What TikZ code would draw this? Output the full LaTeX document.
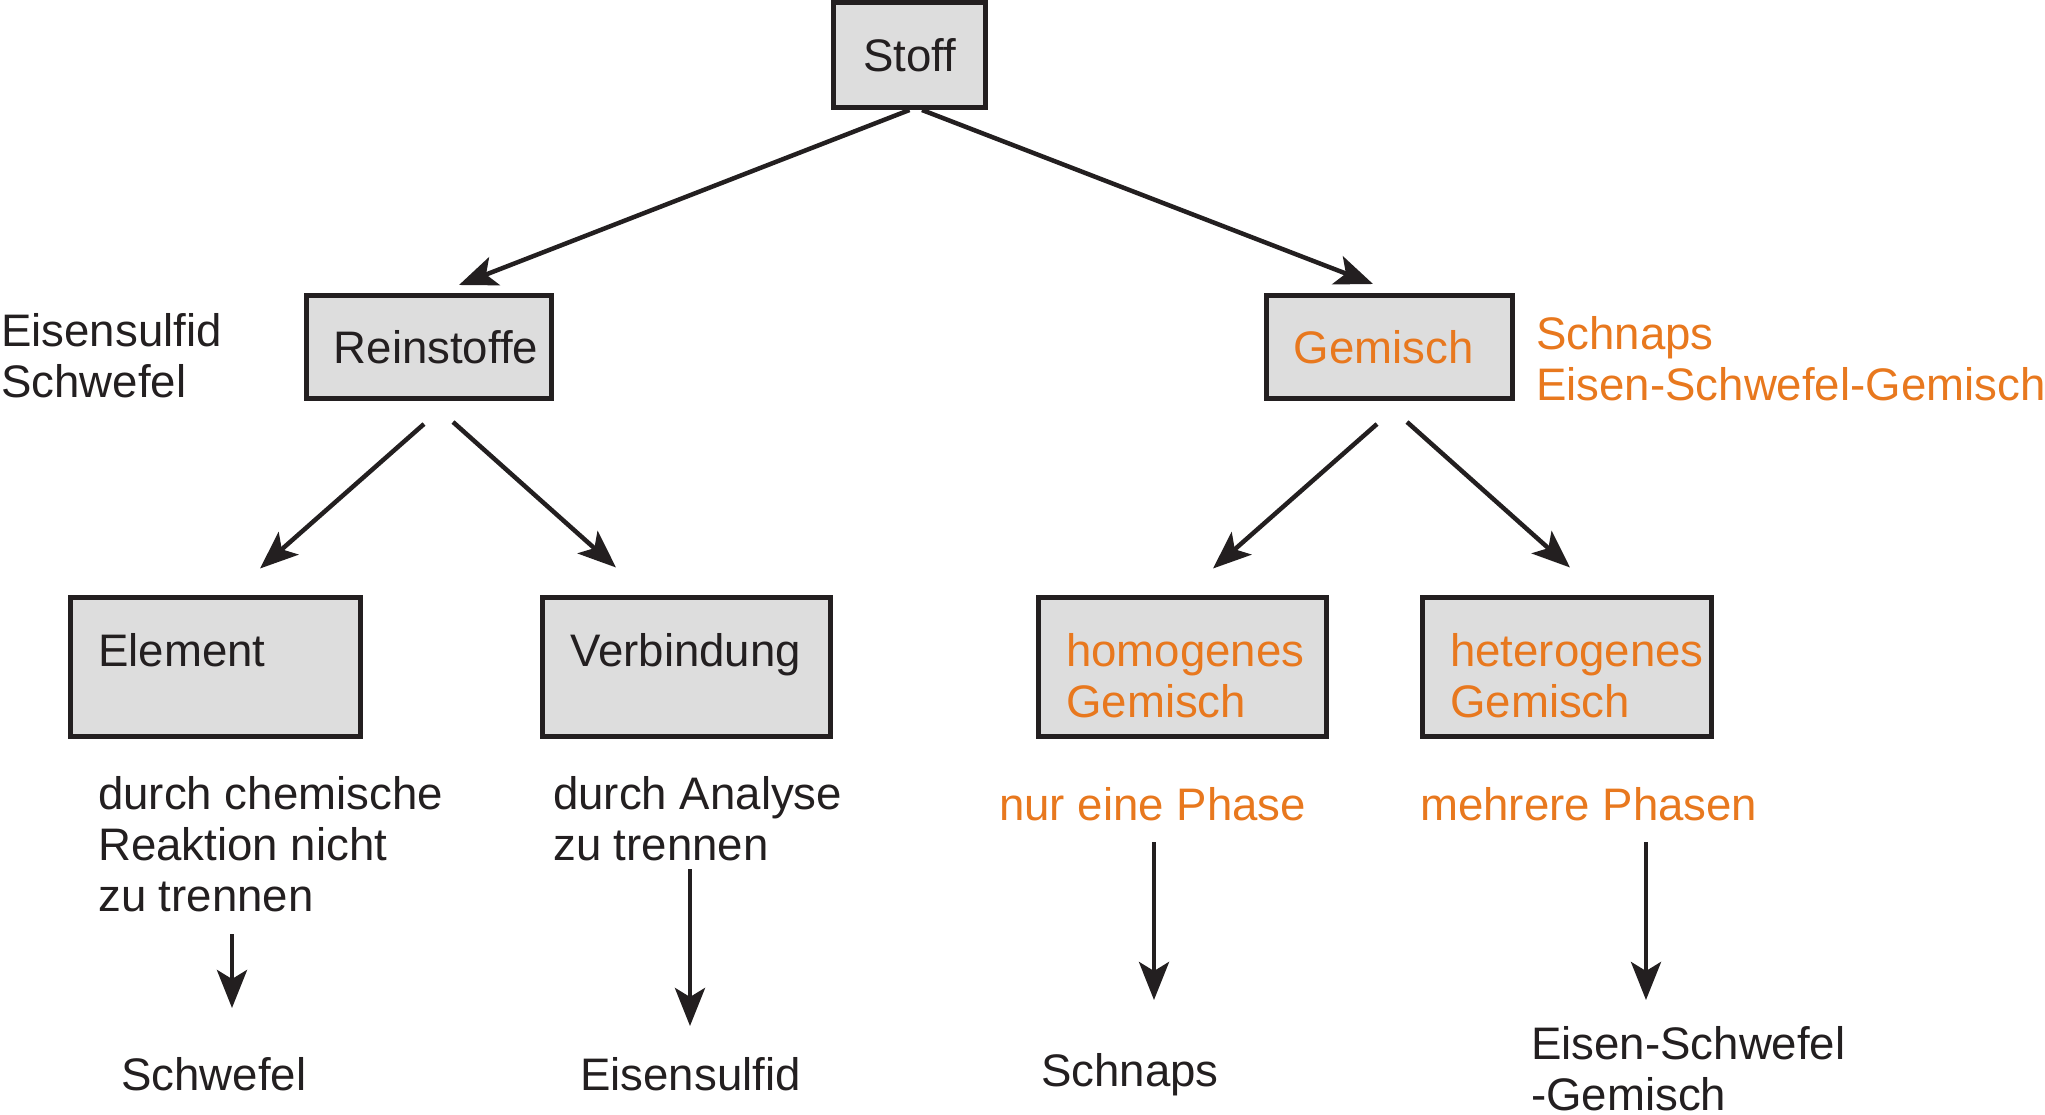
\documentclass[tikz,border=0pt]{standalone}
\usepackage{fontspec}
\setmainfont{Liberation Sans}
\usetikzlibrary{arrows.meta}
\definecolor{orng}{HTML}{E8781E}
\definecolor{boxgray}{HTML}{DDDDDD}
\definecolor{ink}{HTML}{231F20}
\begin{document}
\begin{tikzpicture}[x=1pt,y=-1pt,
  box/.style={draw=ink, fill=boxgray, line width=5pt, inner sep=0pt,
    font=\fontsize{45.6pt}{51pt}\selectfont, text=ink},
  txt/.style={inner sep=0pt, anchor=base west, align=left,
    font=\fontsize{45.6pt}{51pt}\selectfont, text=ink},
  otxt/.style={txt, text=orng},
  arr/.style={draw=ink, line width=4.5pt,
    -{Stealth[length=38pt,width=30pt,inset=9pt]}}]
\useasboundingbox[fill=white] (0,0) rectangle (2045,1115);

% boxes
\node[box, minimum width=152pt, minimum height=105pt] (stoff) at (909.5,55) {Stoff};
\node[box, minimum width=245pt, minimum height=102pt] (rein) at (429,347) {\hspace*{14pt}Reinstoffe};
\node[box, minimum width=246pt, minimum height=102pt, text=orng] (gem) at (1389.5,347) {Gemisch\hspace*{12pt}};
\node[box, minimum width=290pt, minimum height=139pt] (elem) at (215.5,667) {};
\node[box, minimum width=288pt, minimum height=139pt] (verb) at (686.5,667) {};
\node[box, minimum width=288pt, minimum height=139pt] (homo) at (1182.5,667) {};
\node[box, minimum width=289pt, minimum height=139pt] (hete) at (1567,667) {};

% box texts (base anchor = baseline of the last line)
\node[txt] (elemT) at (98,666) {Element};
\node[txt] (verbT) at (570,666) {Verbindung};
\node[otxt] (homoT) at (1066,717) {homogenes\\Gemisch};
\node[otxt] (heteT) at (1450,717) {heterogenes\\Gemisch};

% side texts
\node[txt] (reinEx) at (1,397) {Eisensulfid\\Schwefel};
\node[otxt] (gemEx) at (1536,400) {Schnaps\\Eisen-Schwefel-Gemisch};

% descriptions
\node[txt] (elemD) at (98,911) {durch chemische\\Reaktion nicht\\zu trennen};
\node[txt] (verbD) at (553,860) {durch Analyse\\zu trennen};
\node[otxt] (homoD) at (999,820) {nur eine Phase};
\node[otxt] (heteD) at (1420,820) {mehrere Phasen};

% results
\node[txt] (elemR) at (121,1090) {Schwefel};
\node[txt] (verbR) at (580,1090) {Eisensulfid};
\node[txt] (homoR) at (1041,1086) {Schnaps};
\node[txt] (heteR) at (1531,1110) {Eisen-Schwefel\\-Gemisch};

% tree arrows
\draw[arr] (stoff.south) -- ([xshift=30pt,yshift=8.5pt]rein.north);
\draw[arr] ([xshift=12.5pt]stoff.south) -- ([xshift=-16.5pt,yshift=9.5pt]gem.north);
\draw[arr] ([xshift=-5pt,yshift=-23.5pt]rein.south) -- ([xshift=44.5pt,yshift=26.5pt]elem.north);
\draw[arr] ([xshift=24pt,yshift=-21.5pt]rein.south) -- ([xshift=-70.5pt,yshift=27.5pt]verb.north);
\draw[arr] ([xshift=-12.5pt,yshift=-23.5pt]gem.south) -- ([xshift=30.5pt,yshift=26.5pt]homo.north);
\draw[arr] ([xshift=17.5pt,yshift=-21.5pt]gem.south) -- ([xshift=3pt,yshift=27.5pt]hete.north);

% vertical arrows
\coordinate (elemA) at (232,934);  \coordinate (elemB) at (232,1008);
\coordinate (verbA) at (690,869);  \coordinate (verbB) at (690,1026);
\coordinate (homoA) at (1154,842); \coordinate (homoB) at (1154,1000);
\coordinate (heteA) at (1646,842); \coordinate (heteB) at (1646,1000);
\draw[arr] (elemA) -- (elemB);
\draw[arr] (verbA) -- (verbB);
\draw[arr] (homoA) -- (homoB);
\draw[arr] (heteA) -- (heteB);
\end{tikzpicture}
\end{document}
